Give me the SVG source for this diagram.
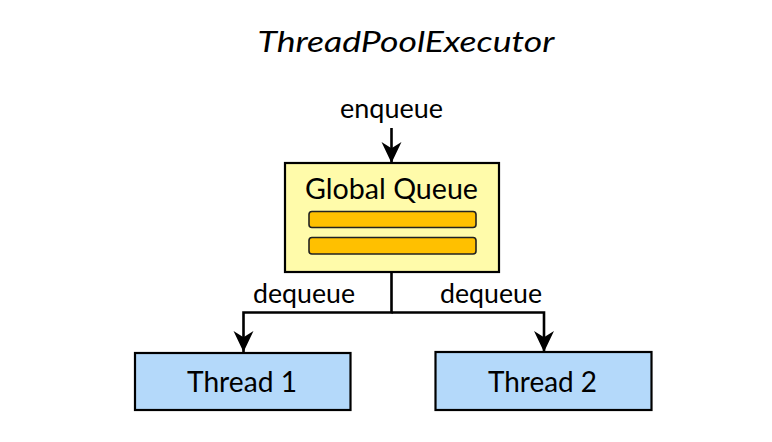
<svg xmlns="http://www.w3.org/2000/svg" width="772" height="442" viewBox="0 0 772 442">
<style>
  text { font-family: "Lato", "Liberation Sans", sans-serif; fill: #000; text-anchor: middle; }
  .title { font-size: 28px; font-style: italic; }
  .lbl { font-size: 26px; }
  .big { font-size: 28px; }
  .box { stroke: #000; stroke-width: 2.2; }
  .q { fill: #FFFBAA; }
  .t { fill: #B4D9FA; }
  .bar { fill: #FFC000; stroke: #222; stroke-width: 1.6; }
  .conn { fill: none; stroke: #000; stroke-width: 2.6; marker-end: url(#arr); }
</style>
<defs>
  <marker id="arr" viewBox="0 0 20 20" refX="20" refY="10" markerWidth="21" markerHeight="21" markerUnits="userSpaceOnUse" orient="auto">
    <path d="M0,0.5 L20,10 L0,19.5 L6,10 Z" fill="#000"/>
  </marker>
</defs>
<rect width="772" height="442" fill="#fff"/>
<text class="title" x="406" y="52" textLength="297" lengthAdjust="spacingAndGlyphs">ThreadPoolExecutor</text>
<g id="connectors">
  <path class="conn" d="M391.5,128 V163"/>
  <path class="conn" d="M391.5,272 V312.5 H243.5 V352"/>
  <path class="conn" d="M391.5,312.5 H544 V352"/>
  <text class="lbl" x="391.5" y="118" textLength="103" lengthAdjust="spacingAndGlyphs">enqueue</text>
  <text class="lbl" x="304" y="303" textLength="102" lengthAdjust="spacingAndGlyphs">dequeue</text>
  <text class="lbl" x="491" y="303" textLength="102" lengthAdjust="spacingAndGlyphs">dequeue</text>
</g>
<g id="global-queue">
  <rect class="box q" x="285" y="163" width="214" height="109"/>
  <text class="big" x="391.5" y="199" textLength="173" lengthAdjust="spacingAndGlyphs">Global Queue</text>
  <rect class="bar" x="309" y="211.5" width="167" height="16" rx="3"/>
  <rect class="bar" x="309" y="237.5" width="167" height="16.5" rx="3"/>
</g>
<g id="thread-1">
  <rect class="box t" x="135" y="353" width="215.5" height="57"/>
  <text class="big" x="242" y="392" textLength="110" lengthAdjust="spacingAndGlyphs">Thread 1</text>
</g>
<g id="thread-2">
  <rect class="box t" x="435.5" y="352" width="216" height="58"/>
  <text class="big" x="542.5" y="392" textLength="109" lengthAdjust="spacingAndGlyphs">Thread 2</text>
</g>
</svg>
